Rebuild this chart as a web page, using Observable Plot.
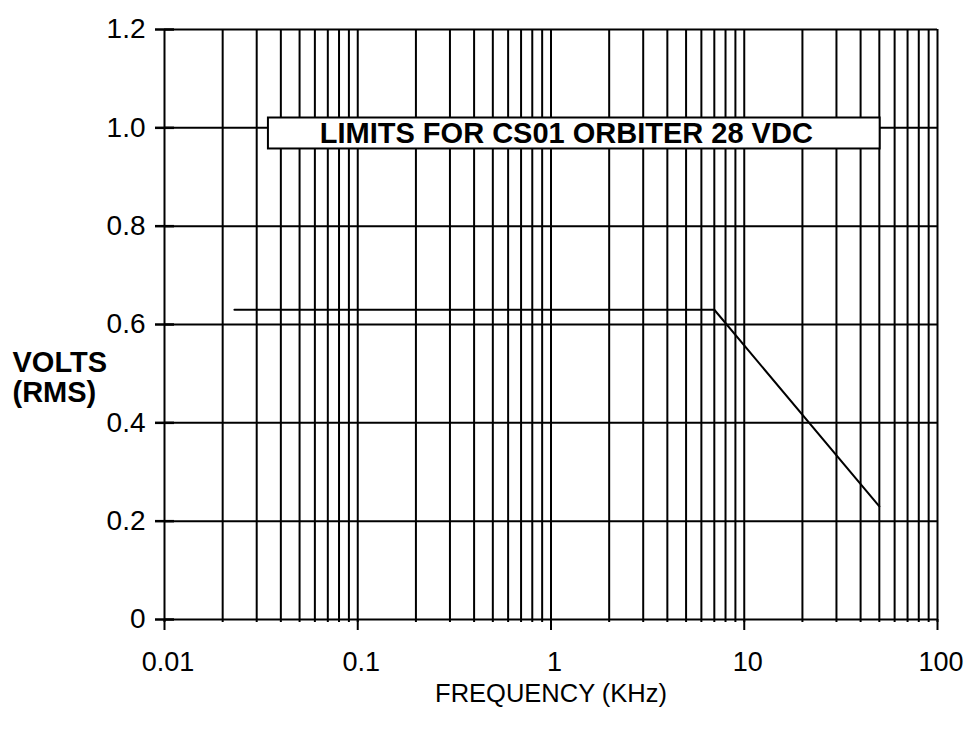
<!DOCTYPE html>
<html>
<head>
<meta charset="utf-8">
<script src="https://cdn.jsdelivr.net/npm/d3@7"></script>
<script src="https://cdn.jsdelivr.net/npm/@observablehq/plot@0.6"></script>
<style>
  html, body { margin: 0; padding: 0; background: #fff; }
  #chart svg { display: block; font-family: "Liberation Sans", Arial, Helvetica, sans-serif; }
</style>
</head>
<body>
<div id="chart"></div>
<script>
// Axis ticks
const xTicks = [0.01, 0.1, 1, 10, 100];
const xTickLabels = ["0.01", "0.1", "1", "10", "100"];
const yTicks = [0, 0.2, 0.4, 0.6, 0.8, 1.0, 1.2];
const yTickLabels = ["0", "0.2", "0.4", "0.6", "0.8", "1.0", "1.2"];

// Log grid: mantissas per decade
const gridDecades = [0.01, 0.1, 1, 10];
const gridMantissas = [1, 2, 3, 4, 5, 6, 7, 8, 9];

// Limit curve (CS01, orbiter 28 VDC)
const limitFreq = [0.023, 7, 50];      // kHz
const limitVolts = [0.63, 0.63, 0.23]; // V rms

// Annotation box
const boxTitle = "LIMITS FOR CS01 ORBITER 28 VDC";
const boxFreq = [0.0345, 50.5];
const boxVolts = [0.957, 1.02];

// Labels
const xLabel = "FREQUENCY (KHz)";
const yLabel = ["VOLTS", "(RMS)"];

const gridX = gridDecades.flatMap(d => gridMantissas.map(m => +(d * m).toPrecision(3))).concat([100]);
const limitData = limitFreq.map((f, i) => ({f, v: limitVolts[i]}));
const boxData = [{x1: boxFreq[0], x2: boxFreq[1], y1: boxVolts[0], y2: boxVolts[1], t: boxTitle}];

const fmtX = d => xTickLabels[xTicks.indexOf(d)];
const fmtY = d => yTickLabels[yTicks.findIndex(t => Math.abs(t - d) < 1e-9)];

const chart = Plot.plot({
  width: 969,
  height: 732,
  marginLeft: 164,
  marginRight: 32,
  marginTop: 29,
  marginBottom: 113,
  style: {fontFamily: '"Liberation Sans", Arial, Helvetica, sans-serif', color: "#000", background: "#fff"},
  x: {type: "log", domain: [0.01, 100]},
  y: {domain: [0, 1.2]},
  marks: [
    Plot.ruleX(gridX, {stroke: "#000", strokeWidth: 2, insetBottom: -3}),
    Plot.ruleY(yTicks, {stroke: "#000", strokeWidth: 2}),
    Plot.line(limitData, {x: "f", y: "v", stroke: "#000", strokeWidth: 2}),
    Plot.rect(boxData, {x1: "x1", x2: "x2", y1: "y1", y2: "y2", fill: "#fff", stroke: "#000", strokeWidth: 2}),
    Plot.text(boxData, {x: d => Math.sqrt(d.x1 * d.x2), y: d => (d.y1 + d.y2) / 2, text: "t",
      fontSize: 29, fontWeight: "bold", fill: "#000", dx: -8}),
    // x axis: major ticks
    Plot.axisX(xTicks, {tickSize: 11, tickFormat: () => "", stroke: "#000", strokeWidth: 2, label: null}),
    // x axis labels
    Plot.axisX(xTicks, {tickSize: 0, tickPadding: 32, dx: 3.5, tickFormat: fmtX, fontSize: 27, label: null}),
    // y axis: ticks crossing the axis
    Plot.axisY(yTicks, {tickSize: 19, dx: 10, tickFormat: () => "", strokeWidth: 2.5, stroke: "#000", label: null}),
    Plot.axisY(yTicks, {tickSize: 0, tickPadding: 19, tickFormat: fmtY, fontSize: 28, label: null}),
    Plot.text([xLabel], {frameAnchor: "bottom", dy: 74, text: d => d, fontSize: 25.5, fill: "#000", lineAnchor: "middle"}),
    Plot.text([yLabel.join("\n")], {frameAnchor: "left", dx: -152, dy: 53, text: d => d, textAnchor: "start",
      fontSize: 29, fontWeight: "bold", fill: "#000", lineHeight: 1.05})
  ]
});
document.getElementById("chart").appendChild(chart);
</script>
</body>
</html>
